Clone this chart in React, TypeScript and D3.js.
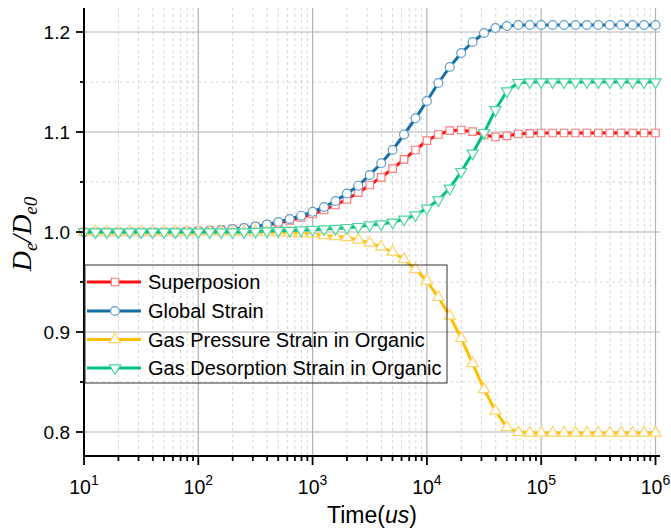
import React from 'react';
import * as d3 from 'd3';

// Sampling times (us), ten per decade
const timeUs = [
  10, 12.59, 15.85, 19.95, 25.12, 31.62, 39.81, 50.12, 63.1, 79.43,
  100, 125.9, 158.5, 199.5, 251.2, 316.2, 398.1, 501.2, 631.0, 794.3,
  1000, 1259, 1585, 1995, 2512, 3162, 3981, 5012, 6310, 7943,
  10000, 12589, 15849, 19953, 25119, 31623, 39811, 50119, 63096, 79433,
  100000, 125893, 158489, 199526, 251189, 316228, 398107, 501187, 630957, 794328,
  1000000,
];

// De/De0 for each strain contribution
const superposion = [
  1.0, 1.0, 1.0, 1.0, 1.0, 1.0, 1.0, 1.0, 1.0, 1.0005,
  1.001, 1.0015, 1.002, 1.003, 1.004, 1.0052, 1.007, 1.009, 1.0115, 1.0145,
  1.018, 1.022, 1.027, 1.0327, 1.0393, 1.047, 1.0547, 1.0633, 1.0727, 1.082,
  1.0913, 1.0975, 1.1013, 1.102, 1.1003, 1.097, 1.095, 1.0962, 1.098, 1.0987,
  1.099, 1.099, 1.099, 1.099, 1.099, 1.099, 1.099, 1.099, 1.099, 1.099,
  1.099,
];
const globalStrain = [
  1.0, 1.0, 1.0, 1.0, 1.0, 1.0, 1.0, 1.0, 1.0, 1.0005,
  1.001, 1.0015, 1.002, 1.003, 1.004, 1.0055, 1.0075, 1.01, 1.013, 1.0163,
  1.0202, 1.025, 1.031, 1.0385, 1.0463, 1.057, 1.0687, 1.082, 1.0975, 1.1137,
  1.131, 1.149, 1.165, 1.179, 1.19, 1.199, 1.204, 1.206, 1.207, 1.207,
  1.207, 1.207, 1.207, 1.207, 1.207, 1.207, 1.207, 1.207, 1.207, 1.207,
  1.207,
];
const gasPressure = [
  1.0, 1.0, 1.0, 1.0, 1.0, 1.0, 1.0, 1.0, 1.0, 1.0,
  1.0, 1.0, 1.0, 1.0, 1.0, 1.0, 0.9997, 0.9995, 0.999, 0.9985,
  0.998, 0.9965, 0.9955, 0.9945, 0.992, 0.989, 0.985, 0.98, 0.9727, 0.9627,
  0.951, 0.9347, 0.916, 0.8937, 0.8687, 0.8427, 0.821, 0.8047, 0.7997, 0.799,
  0.799, 0.799, 0.799, 0.799, 0.799, 0.799, 0.799, 0.799, 0.799, 0.799,
  0.799,
];
const gasDesorption = [
  1.0, 1.0, 1.0, 1.0, 1.0, 1.0, 1.0, 1.0, 1.0, 1.0,
  1.0, 1.0, 1.0, 1.0, 1.0, 1.0005, 1.001, 1.0012, 1.0015, 1.002,
  1.0023, 1.003, 1.0035, 1.0043, 1.0053, 1.007, 1.008, 1.0097, 1.0127, 1.017,
  1.0237, 1.032, 1.0437, 1.0603, 1.0787, 1.0993, 1.1222, 1.141, 1.1493, 1.15,
  1.15, 1.15, 1.15, 1.15, 1.15, 1.15, 1.15, 1.15, 1.15, 1.15,
  1.15,
];

const seriesNames = [
  'Superposion',
  'Global Strain',
  'Gas Pressure Strain in Organic',
  'Gas Desorption Strain in Organic',
];

const yMajorTicks = [0.8, 0.9, 1.0, 1.1, 1.2];
const yMinorTicks = [0.85, 0.95, 1.05, 1.15];
const xDecadeExponents = [1, 2, 3, 4, 5, 6];

const W = 671;
const H = 532;
const PLOT = { left: 84, right: 660, top: 8, bottom: 456 };
const SANS = "'Liberation Sans', Arial, sans-serif";
const SERIF = "'Liberation Serif', 'Times New Roman', serif";

export default function App() {
  const x = d3.scaleLog().domain([10, 1.095e6]).range([PLOT.left, PLOT.right]);
  const y = d3.scaleLinear().domain([0.776, 1.224]).range([PLOT.bottom, PLOT.top]);

  const xMinor: number[] = [];
  for (let k = 1; k <= 5; k++) {
    for (let m = 2; m <= 9; m++) xMinor.push(m * 10 ** k);
  }

  const series = [
    { name: seriesNames[0], values: superposion, color: '#ff1010', mark: '#ff7a7a', symbol: d3.symbolSquare, size: 56, rot: 0 },
    { name: seriesNames[1], values: globalStrain, color: '#146fa6', mark: '#5d9dc9', symbol: d3.symbolCircle, size: 62, rot: 0 },
    { name: seriesNames[2], values: gasPressure, color: '#ffc000', mark: '#ffd466', symbol: d3.symbolTriangle, size: 54, rot: 0 },
    { name: seriesNames[3], values: gasDesorption, color: '#00c27c', mark: '#4fd6a0', symbol: d3.symbolTriangle, size: 54, rot: 180 },
  ];

  const line = d3
    .line<number>()
    .x((_, i) => x(timeUs[i]))
    .y((v) => y(v))
    .curve(d3.curveLinear);

  const legend = { x: 85, y: 265, w: 362, h: 118, rows: [282, 311, 339.5, 368] };

  return (
    <svg width={W} height={H} style={{ position: 'absolute', left: 0, top: 0, background: '#fff' }}>
      {/* minor grid */}
      <g stroke="#d6d6d6" strokeWidth={1} strokeDasharray="3,3">
        {xMinor.map((t) => (
          <line key={'xm' + t} x1={x(t)} x2={x(t)} y1={PLOT.top} y2={PLOT.bottom} />
        ))}
        {yMinorTicks.map((v) => (
          <line key={'ym' + v} x1={PLOT.left} x2={PLOT.right} y1={y(v)} y2={y(v)} />
        ))}
      </g>
      {/* major grid */}
      <g stroke="#b3b3b3" strokeWidth={1.2}>
        {xDecadeExponents.slice(1).map((e) => (
          <line key={'xg' + e} x1={x(10 ** e)} x2={x(10 ** e)} y1={PLOT.top} y2={PLOT.bottom} />
        ))}
        {yMajorTicks.map((v) => (
          <line key={'yg' + v} x1={PLOT.left} x2={PLOT.right} y1={y(v)} y2={y(v)} />
        ))}
      </g>

      {/* series */}
      {series.map((s) => (
        <g key={s.name}>
          <path d={line(s.values) || ''} fill="none" stroke={s.color} strokeWidth={3} strokeLinejoin="round" />
          {s.values.map((v, i) => (
            <path
              key={i}
              d={d3.symbol().type(s.symbol).size(s.size)() || ''}
              transform={`translate(${x(timeUs[i])},${y(v)}) rotate(${s.rot})`}
              fill="#fff"
              stroke={s.mark}
              strokeWidth={1.2}
            />
          ))}
        </g>
      ))}

      {/* axes */}
      <g stroke="#000">
        <line x1={PLOT.left} x2={PLOT.left} y1={PLOT.top} y2={PLOT.bottom + 1} strokeWidth={2} />
        <line x1={PLOT.left - 1} x2={PLOT.right} y1={PLOT.bottom} y2={PLOT.bottom} strokeWidth={2} />
        {yMajorTicks.map((v) => (
          <line key={'yt' + v} x1={PLOT.left - 8} x2={PLOT.left} y1={y(v)} y2={y(v)} strokeWidth={1.8} />
        ))}
        {yMinorTicks.map((v) => (
          <line key={'ymt' + v} x1={PLOT.left - 4} x2={PLOT.left} y1={y(v)} y2={y(v)} strokeWidth={1.8} />
        ))}
        {xDecadeExponents.map((e) => (
          <line key={'xt' + e} x1={x(10 ** e)} x2={x(10 ** e)} y1={PLOT.bottom} y2={PLOT.bottom + 9} strokeWidth={1.8} />
        ))}
        {xMinor.map((t) => (
          <line key={'xmt' + t} x1={x(t)} x2={x(t)} y1={PLOT.bottom} y2={PLOT.bottom + 5} strokeWidth={1.8} />
        ))}
      </g>

      {/* tick labels */}
      <g fontFamily={SANS} fill="#000">
        {yMajorTicks.map((v) => (
          <text key={'yl' + v} x={PLOT.left - 14} y={y(v)} dy="0.35em" textAnchor="end" fontSize={19}>
            {v.toFixed(1)}
          </text>
        ))}
        {xDecadeExponents.map((e) => (
          <text key={'xl' + e} x={x(10 ** e)} y={494} textAnchor="middle" fontSize={19.5}>
            10
            <tspan dy={-9} fontSize={14}>
              {e}
            </tspan>
          </text>
        ))}
      </g>

      {/* axis titles */}
      <text x={(PLOT.left + PLOT.right) / 2} y={523} textAnchor="middle" fontFamily={SANS} fontSize={23}>
        Time(<tspan fontStyle="italic">us</tspan>)
      </text>
      <text
        transform="translate(31,234) rotate(-90)"
        textAnchor="middle"
        fontFamily={SERIF}
        fontStyle="italic"
        fontSize={28}
      >
        D<tspan dy={6} fontSize={19}>e</tspan>
        <tspan dy={-6}>/D</tspan>
        <tspan dy={6} fontSize={19}>e0</tspan>
      </text>

      {/* legend */}
      <rect x={legend.x} y={legend.y} width={legend.w} height={legend.h} fill="none" stroke="#333" strokeWidth={1} />
      {series.map((s, k) => {
        const ry = legend.rows[k];
        return (
          <g key={'lg' + k}>
            <line x1={87} x2={141} y1={ry} y2={ry} stroke={s.color} strokeWidth={3} />
            <path
              d={d3.symbol().type(s.symbol).size(s.size)() || ''}
              transform={`translate(115,${ry}) rotate(${s.rot})`}
              fill="#fff"
              stroke={s.mark}
              strokeWidth={1.2}
            />
            <text x={148} y={ry} dy="0.35em" fontFamily={SANS} fontSize={20}>
              {s.name}
            </text>
          </g>
        );
      })}
    </svg>
  );
}
